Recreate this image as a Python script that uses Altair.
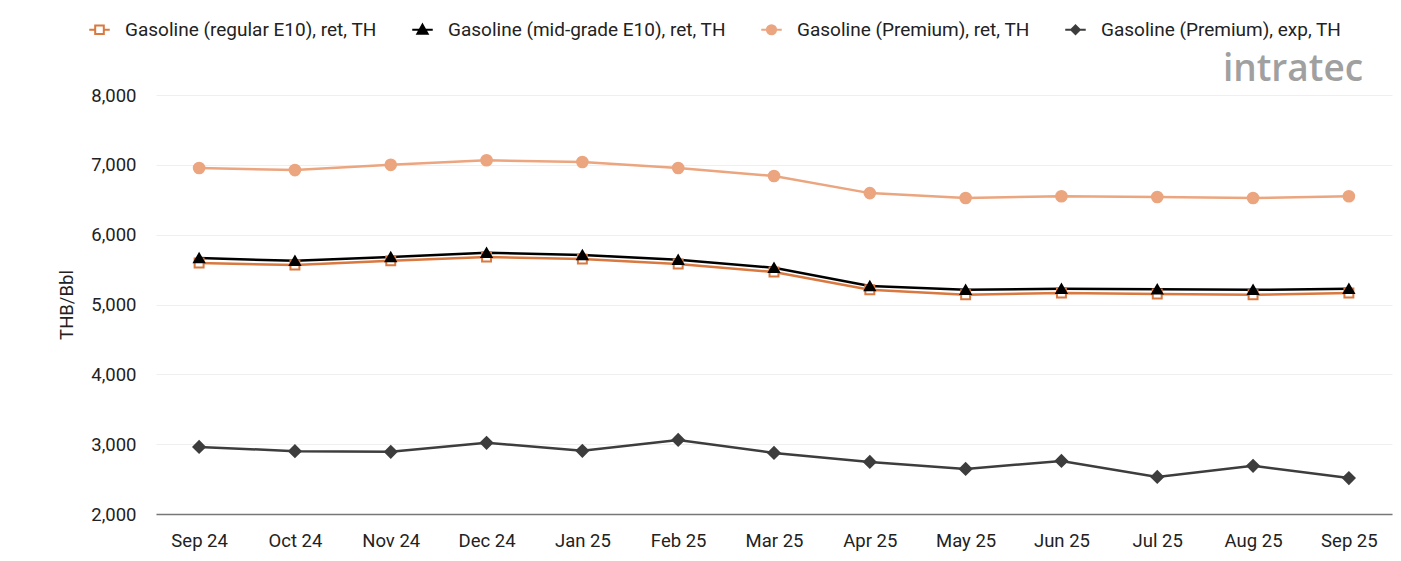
import altair as alt
import pandas as pd

months = ["Sep 24", "Oct 24", "Nov 24", "Dec 24", "Jan 25", "Feb 25", "Mar 25",
          "Apr 25", "May 25", "Jun 25", "Jul 25", "Aug 25", "Sep 25"]

series_names = ["Gasoline (regular E10), ret, TH",
                "Gasoline (mid-grade E10), ret, TH",
                "Gasoline (Premium), ret, TH",
                "Gasoline (Premium), exp, TH"]

regular_ret = [5595, 5565, 5625, 5680, 5650, 5580, 5465, 5210, 5140, 5165, 5150, 5140, 5165]
midgrade_ret = [5665, 5625, 5680, 5740, 5710, 5640, 5525, 5265, 5210, 5225, 5220, 5210, 5225]
premium_ret = [6955, 6925, 7000, 7065, 7040, 6955, 6840, 6595, 6525, 6550, 6540, 6525, 6550]
premium_exp = [2960, 2900, 2890, 3020, 2905, 3060, 2875, 2745, 2645, 2760, 2530, 2690, 2515]

stroke_colors = ["#d9783f", "#000000", "#eba57f", "#3d3d3d"]
fill_colors = ["#ffffff", "#000000", "#eba57f", "#3d3d3d"]
point_shapes = ["square", "triangle-up", "circle", "diamond"]
point_sizes = [80, 130, 120, 90]
legend_paths = [
    "M-1,0H-0.42M0.42,0H1M-0.42,-0.42H0.42V0.42H-0.42Z",
    "M-1,0H1M0,-0.5L0.5,0.38H-0.5Z",
    "M-1,0H1M0.45,0A0.45,0.45 0 1 1 -0.45,0A0.45,0.45 0 1 1 0.45,0Z",
    "M-1,0H1M0,-0.42L0.42,0L0,0.42L-0.42,0Z",
]

rows = []
for name, vals in zip(series_names, [regular_ret, midgrade_ret, premium_ret, premium_exp]):
    for m, v in zip(months, vals):
        rows.append({"month": m, "series": name, "value": v})
df = pd.DataFrame(rows)

x_enc = alt.X("month:N", sort=months, title=None,
              scale=alt.Scale(type="point", padding=0.45),
              axis=alt.Axis(labelAngle=0, ticks=False, labelPadding=17,
                            domainColor="#777777", domainWidth=1.5,
                            labelFontSize=18.5, labelColor="#222222", grid=False))
y_enc = alt.Y("value:Q", title="THB/Bbl",
              scale=alt.Scale(domain=[2000, 8000], nice=False, zero=False),
              axis=alt.Axis(values=[2000, 3000, 4000, 5000, 6000, 7000, 8000], format=",.0f",
                            ticks=False, domain=False, labelPadding=20,
                            labelFontSize=18.5, labelColor="#222222",
                            titleFontSize=18.5, titleFontWeight="normal", titleColor="#222222",
                            titlePadding=14, gridColor="#efefef"))

base = alt.Chart(df)

lines = base.mark_line(strokeWidth=2.5).encode(
    x=x_enc, y=y_enc,
    color=alt.Color("series:N", scale=alt.Scale(domain=series_names, range=stroke_colors), legend=None),
)

points = base.mark_point(opacity=1, strokeWidth=2).encode(
    x=x_enc, y=y_enc,
    stroke=alt.Stroke("series:N", scale=alt.Scale(domain=series_names, range=stroke_colors), legend=None),
    fill=alt.Fill("series:N", scale=alt.Scale(domain=series_names, range=fill_colors), legend=None),
    shape=alt.Shape("series:N", scale=alt.Scale(domain=series_names, range=point_shapes), legend=None),
    size=alt.Size("series:N", scale=alt.Scale(domain=series_names, range=point_sizes), legend=None),
)

legend_layer = base.transform_filter("datum.value < 0").mark_point(opacity=1, strokeWidth=2).encode(
    x=x_enc, y=y_enc,
    stroke=alt.Stroke("series:N", scale=alt.Scale(domain=series_names, range=stroke_colors),
                      legend=alt.Legend(title=None, orient="none", direction="horizontal",
                                        legendX=-68, legendY=-77, columnPadding=31,
                                        labelOffset=14, symbolSize=420, symbolStrokeWidth=2,
                                        labelFontSize=19, labelColor="#222222", labelLimit=400)),
    fill=alt.Fill("series:N", scale=alt.Scale(domain=series_names, range=fill_colors)),
    shape=alt.Shape("series:N", scale=alt.Scale(domain=series_names, range=legend_paths)),
)

logo = alt.Chart(pd.DataFrame({"t": ["intratec"]})).mark_text(
    fontSize=37, font="Open Sans", fontWeight=600, color="#a0a0a0", align="center", baseline="middle"
).encode(x=alt.value(1137), y=alt.value(-25), text="t:N")

chart = alt.layer(lines, points, legend_layer, logo).resolve_scale(
    stroke="independent", fill="independent", shape="independent", size="independent"
).properties(
    width=1236, height=419,
    autosize=alt.AutoSizeParams(type="none"),
    padding={"left": 148, "top": 87, "right": 1, "bottom": 40},
).configure(font="Roboto").configure_view(strokeWidth=0, stroke="transparent")

chart.save("out.html", embed_options={"renderer": "svg", "actions": False})
